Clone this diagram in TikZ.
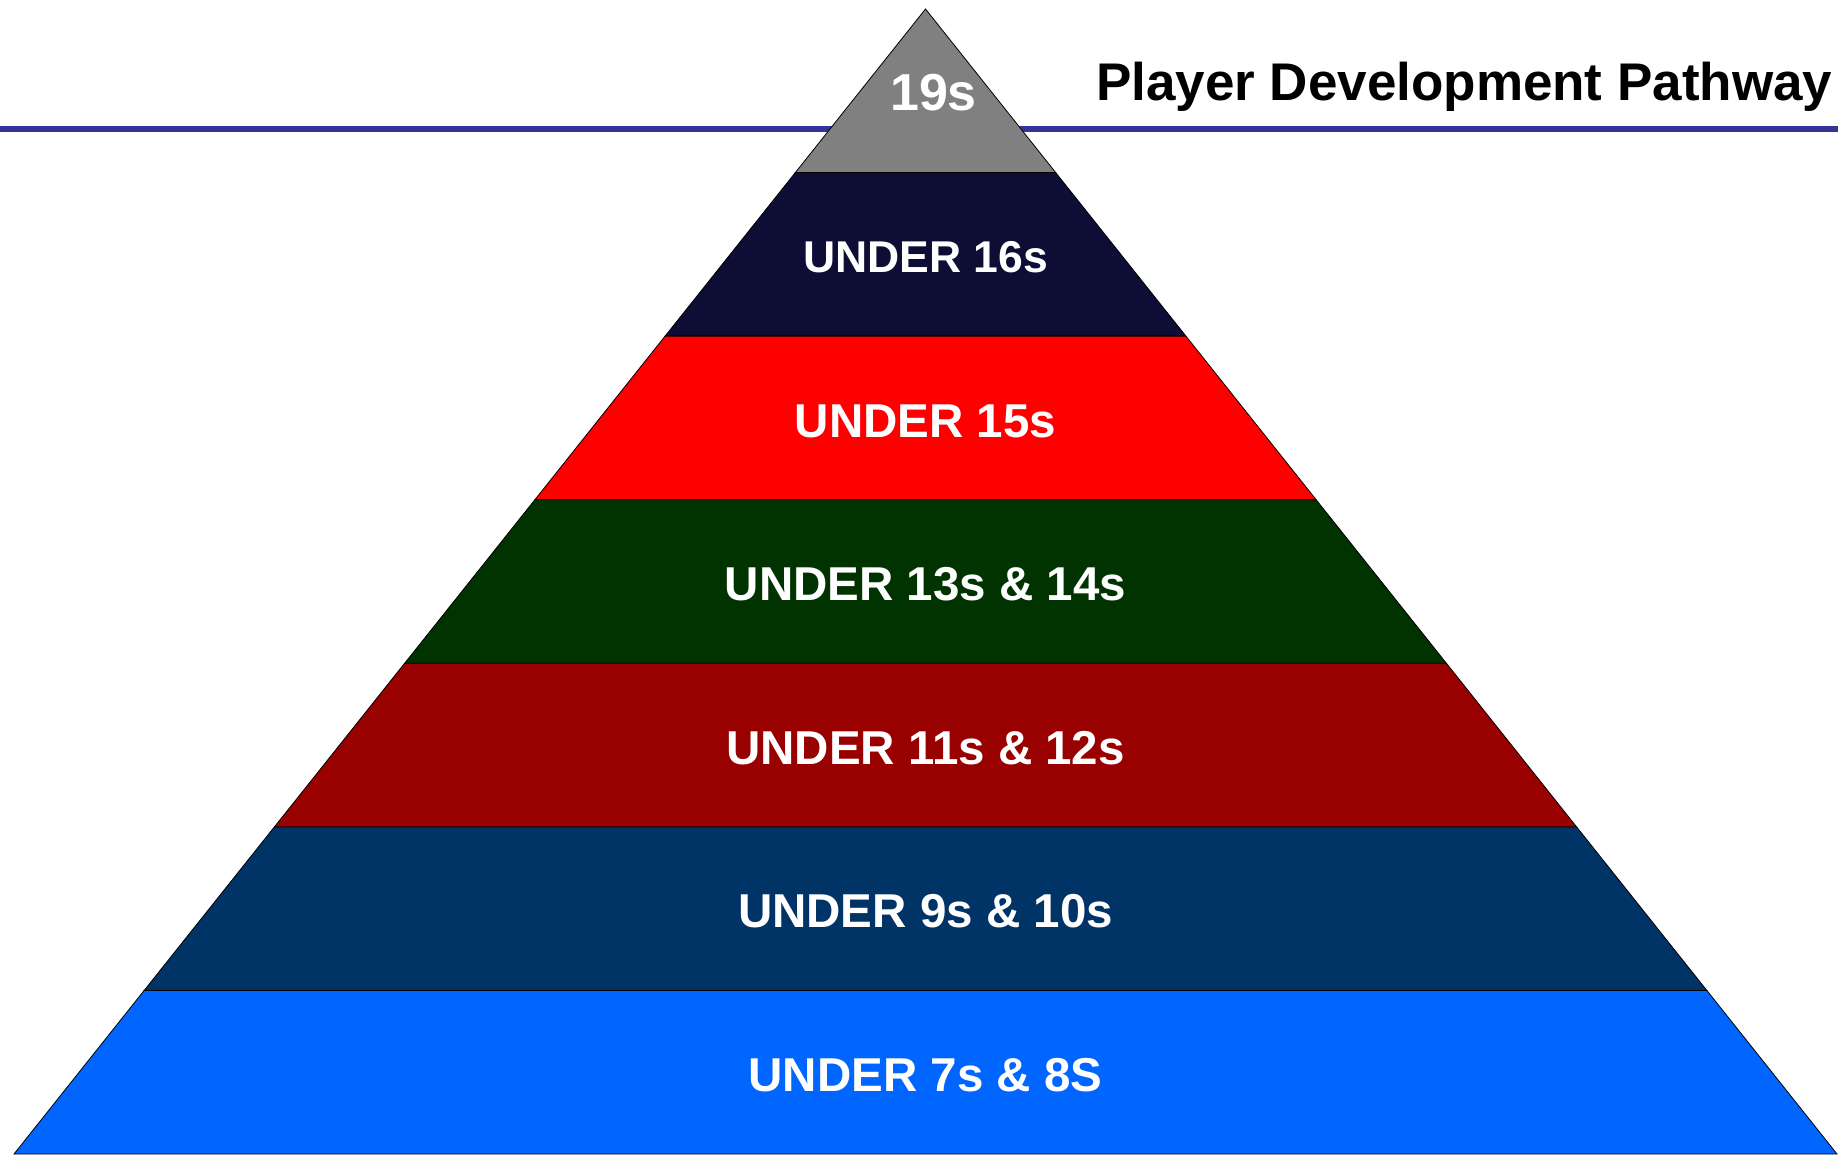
\documentclass[tikz,border=0pt]{standalone}
\usepackage{fontspec}
\setmainfont{Liberation Sans}

\definecolor{tierA}{HTML}{808080}
\definecolor{tierB}{HTML}{0D0D36}
\definecolor{tierC}{HTML}{FF0000}
\definecolor{tierD}{HTML}{003300}
\definecolor{tierE}{HTML}{990000}
\definecolor{tierF}{HTML}{003366}
\definecolor{tierG}{HTML}{0066FF}
\definecolor{rule}{HTML}{333399}

\begin{document}
\begin{tikzpicture}[x=1pt, y=-1pt,
  band/.style={draw=black, line width=0.8pt},
  lbl/.style={text=white, font=\fontsize{47.5}{57}\selectfont\bfseries}]
\useasboundingbox (0,0) rectangle (1838,1154);

\draw[rule, line width=5.5pt] (0,129) -- (1838,129);

\filldraw[band, fill=tierA] (925.5,9) -- (1055.7,172.6) -- (795.3,172.6) -- cycle;
\filldraw[band, fill=tierB] (795.3,172.6) -- (1055.7,172.6) -- (1185.9,336.1) -- (665.1,336.1) -- cycle;
\filldraw[band, fill=tierC] (665.1,336.1) -- (1185.9,336.1) -- (1316.1,499.7) -- (534.9,499.7) -- cycle;
\filldraw[band, fill=tierD] (534.9,499.7) -- (1316.1,499.7) -- (1446.4,663.3) -- (404.6,663.3) -- cycle;
\filldraw[band, fill=tierE] (404.6,663.3) -- (1446.4,663.3) -- (1576.6,826.9) -- (274.4,826.9) -- cycle;
\filldraw[band, fill=tierF] (274.4,826.9) -- (1576.6,826.9) -- (1706.8,990.4) -- (144.2,990.4) -- cycle;
\filldraw[band, fill=tierG] (144.2,990.4) -- (1706.8,990.4) -- (1837,1154) -- (14,1154) -- cycle;

\node[lbl, font=\fontsize{52}{60}\selectfont\bfseries] (u19) at (933.5,92.5) {19s};
\node[lbl, font=\fontsize{44.5}{54}\selectfont\bfseries] (u16) at (925.5,257.5) {UNDER 16s};
\node[lbl] (u15) at (925.5,421) {UNDER 15s};
\node[lbl] (u13) at (925.5,584.5) {UNDER 13s \& 14s};
\node[lbl] (u11) at (925.5,748) {UNDER 11s \& 12s};
\node[lbl] (u9)  at (925.5,911.5) {UNDER 9s \& 10s};
\node[lbl] (u7)  at (925.5,1075) {UNDER 7s \& 8S};

\node[anchor=base east, font=\fontsize{53}{62}\selectfont\bfseries] (title) at (1836,100.7) {Player Development Pathway};
\end{tikzpicture}
\end{document}
